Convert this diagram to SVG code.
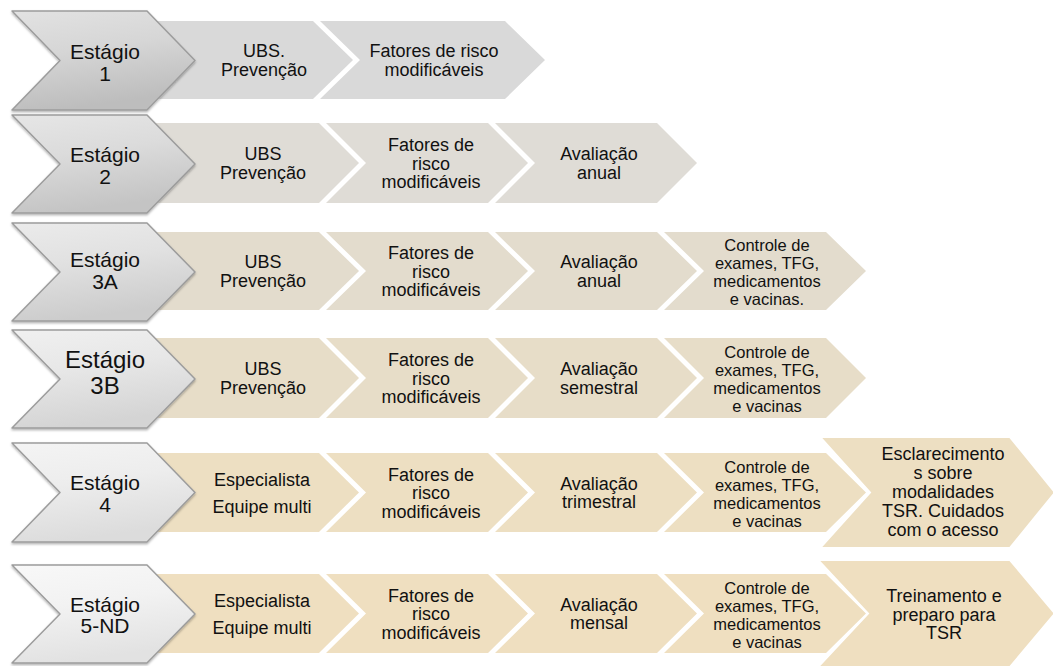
<svg xmlns="http://www.w3.org/2000/svg" width="1053" height="666" viewBox="0 0 1053 666">
  <defs>
    <style>
      text { font-family: "Liberation Sans", Arial, sans-serif; fill: #111; text-anchor: middle; }
      .st { font-size: 21px; }
      .st-big { font-size: 24px; }
      .lb { font-size: 18px; }
      .lb-s { font-size: 16.5px; }
      .stage { stroke: #9c9c9c; stroke-width: 1.5; stroke-linejoin: round; filter: url(#shadow); }
      .r1 { fill: #d9d9d9; }
      .r2 { fill: #dfdcd6; }
      .r3 { fill: #e3dccd; }
      .r4 { fill: #e7ddc8; }
      .r5 { fill: #eddfc2; }
      .r6 { fill: #efdfc0; }
    </style>
    <filter id="shadow" x="-10%" y="-10%" width="120%" height="130%">
      <feDropShadow dx="0" dy="1.5" stdDeviation="1" flood-color="#000" flood-opacity="0.3"/>
    </filter>
    <linearGradient id="g1" x1="0" y1="0" x2="0.25" y2="1">
      <stop offset="0" stop-color="#e2e2e2"/>
      <stop offset="0.45" stop-color="#d6d6d6"/>
      <stop offset="1" stop-color="#bdbdbd"/>
    </linearGradient>
    <linearGradient id="g2" x1="0" y1="0" x2="0.25" y2="1">
      <stop offset="0" stop-color="#e6e6e6"/>
      <stop offset="0.45" stop-color="#dbdbdb"/>
      <stop offset="1" stop-color="#c4c4c4"/>
    </linearGradient>
    <linearGradient id="g3" x1="0" y1="0" x2="0.25" y2="1">
      <stop offset="0" stop-color="#ebebeb"/>
      <stop offset="0.45" stop-color="#e1e1e1"/>
      <stop offset="1" stop-color="#cccccc"/>
    </linearGradient>
    <linearGradient id="g4" x1="0" y1="0" x2="0.25" y2="1">
      <stop offset="0" stop-color="#f0f0f0"/>
      <stop offset="0.45" stop-color="#e7e7e7"/>
      <stop offset="1" stop-color="#d4d4d4"/>
    </linearGradient>
    <linearGradient id="g5" x1="0" y1="0" x2="0.25" y2="1">
      <stop offset="0" stop-color="#f4f4f4"/>
      <stop offset="0.45" stop-color="#ededed"/>
      <stop offset="1" stop-color="#dcdcdc"/>
    </linearGradient>
    <linearGradient id="g6" x1="0" y1="0" x2="0.25" y2="1">
      <stop offset="0" stop-color="#f8f8f8"/>
      <stop offset="0.45" stop-color="#f2f2f2"/>
      <stop offset="1" stop-color="#e2e2e2"/>
    </linearGradient>
  </defs>

  <rect width="1053" height="666" fill="#ffffff"/>

  <!-- Row 1 -->
  <g id="row1">
    <g id="r1-ubs">
      <polygon class="r1" points="140,21 313,21 353,60 313,99 140,99"/>
      <text class="lb" x="264" y="57">UBS.</text>
      <text class="lb" x="264" y="75.5">Prevenção</text>
    </g>
    <g id="r1-fatores">
      <polygon class="r1" points="320,21 505,21 545,60 505,99 320,99 360,60"/>
      <text class="lb" x="434" y="57">Fatores de risco</text>
      <text class="lb" x="434" y="75.5">modificáveis</text>
    </g>
    <g id="r1-stage">
      <polygon class="stage" fill="url(#g1)" points="12,11 147,11 195,60.5 147,110 12,110 60,60.5"/>
      <text class="st" x="105" y="59">Estágio</text>
      <text class="st" x="105" y="81">1</text>
    </g>
  </g>

  <!-- Row 2 -->
  <g id="row2">
    <g id="r2-ubs">
      <polygon class="r2" points="140,123 319,123 359,163 319,203 140,203"/>
      <text class="lb" x="263" y="160">UBS</text>
      <text class="lb" x="263" y="178.5">Prevenção</text>
    </g>
    <g id="r2-fatores">
      <polygon class="r2" points="326,123 488,123 528,163 488,203 326,203 366,163"/>
      <text class="lb" x="431" y="151">Fatores de</text>
      <text class="lb" x="431" y="169.5">risco</text>
      <text class="lb" x="431" y="188">modificáveis</text>
    </g>
    <g id="r2-avaliacao">
      <polygon class="r2" points="495,123 657,123 697,163 657,203 495,203 535,163"/>
      <text class="lb" x="599" y="160">Avaliação</text>
      <text class="lb" x="599" y="178.5">anual</text>
    </g>
    <g id="r2-stage">
      <polygon class="stage" fill="url(#g2)" points="12,115 147,115 195,164 147,213 12,213 60,164"/>
      <text class="st" x="105" y="162">Estágio</text>
      <text class="st" x="105" y="184">2</text>
    </g>
  </g>

  <!-- Row 3 -->
  <g id="row3">
    <g id="r3-ubs">
      <polygon class="r3" points="140,232 319,232 359,271 319,310 140,310"/>
      <text class="lb" x="263" y="268">UBS</text>
      <text class="lb" x="263" y="286.5">Prevenção</text>
    </g>
    <g id="r3-fatores">
      <polygon class="r3" points="326,232 488,232 528,271 488,310 326,310 366,271"/>
      <text class="lb" x="431" y="259">Fatores de</text>
      <text class="lb" x="431" y="277.5">risco</text>
      <text class="lb" x="431" y="296">modificáveis</text>
    </g>
    <g id="r3-avaliacao">
      <polygon class="r3" points="495,232 657,232 697,271 657,310 495,310 535,271"/>
      <text class="lb" x="599" y="268">Avaliação</text>
      <text class="lb" x="599" y="286.5">anual</text>
    </g>
    <g id="r3-controle">
      <polygon class="r3" points="664,232 826,232 866,271 826,310 664,310 704,271"/>
      <text class="lb-s" x="767" y="251">Controle de</text>
      <text class="lb-s" x="767" y="269">exames, TFG,</text>
      <text class="lb-s" x="767" y="287">medicamentos</text>
      <text class="lb-s" x="767" y="305">e vacinas.</text>
    </g>
    <g id="r3-stage">
      <polygon class="stage" fill="url(#g3)" points="12,223 147,223 195,272 147,321 12,321 60,272"/>
      <text class="st" x="105" y="267">Estágio</text>
      <text class="st" x="105" y="289">3A</text>
    </g>
  </g>

  <!-- Row 4 -->
  <g id="row4">
    <g id="r4-ubs">
      <polygon class="r4" points="140,338 319,338 359,378 319,418 140,418"/>
      <text class="lb" x="263" y="375">UBS</text>
      <text class="lb" x="263" y="393.5">Prevenção</text>
    </g>
    <g id="r4-fatores">
      <polygon class="r4" points="326,338 488,338 528,378 488,418 326,418 366,378"/>
      <text class="lb" x="431" y="366">Fatores de</text>
      <text class="lb" x="431" y="384.5">risco</text>
      <text class="lb" x="431" y="403">modificáveis</text>
    </g>
    <g id="r4-avaliacao">
      <polygon class="r4" points="495,338 657,338 697,378 657,418 495,418 535,378"/>
      <text class="lb" x="599" y="375">Avaliação</text>
      <text class="lb" x="599" y="393.5">semestral</text>
    </g>
    <g id="r4-controle">
      <polygon class="r4" points="664,338 826,338 866,378 826,418 664,418 704,378"/>
      <text class="lb-s" x="767" y="358">Controle de</text>
      <text class="lb-s" x="767" y="376">exames, TFG,</text>
      <text class="lb-s" x="767" y="394">medicamentos</text>
      <text class="lb-s" x="767" y="412">e vacinas</text>
    </g>
    <g id="r4-stage">
      <polygon class="stage" fill="url(#g4)" points="12,330 147,330 195,379 147,428 12,428 60,379"/>
      <text class="st-big" x="105" y="368">Estágio</text>
      <text class="st-big" x="105" y="394">3B</text>
    </g>
  </g>

  <!-- Row 5 -->
  <g id="row5">
    <g id="r5-especialista">
      <polygon class="r5" points="140,453 319,453 359,492.5 319,532 140,532"/>
      <text class="lb" x="262" y="486">Especialista</text>
      <text class="lb" x="262" y="513">Equipe multi</text>
    </g>
    <g id="r5-fatores">
      <polygon class="r5" points="326,453 488,453 528,492.5 488,532 326,532 366,492.5"/>
      <text class="lb" x="431" y="480.5">Fatores de</text>
      <text class="lb" x="431" y="499">risco</text>
      <text class="lb" x="431" y="517.5">modificáveis</text>
    </g>
    <g id="r5-avaliacao">
      <polygon class="r5" points="495,453 657,453 697,492.5 657,532 495,532 535,492.5"/>
      <text class="lb" x="599" y="489.5">Avaliação</text>
      <text class="lb" x="599" y="508">trimestral</text>
    </g>
    <g id="r5-controle">
      <polygon class="r5" points="664,453 826,453 866,492.5 826,532 664,532 704,492.5"/>
      <text class="lb-s" x="767" y="472.5">Controle de</text>
      <text class="lb-s" x="767" y="490.5">exames, TFG,</text>
      <text class="lb-s" x="767" y="508.5">medicamentos</text>
      <text class="lb-s" x="767" y="526.5">e vacinas</text>
    </g>
    <g id="r5-esclarecimentos">
      <polygon class="r5" points="820,437 1010,437 1055,492.5 1010,548 820,548 870,492.5" stroke="#ffffff" stroke-width="2"/>
      <text class="lb" x="943" y="460">Esclarecimento</text>
      <text class="lb" x="943" y="479">s sobre</text>
      <text class="lb" x="943" y="498">modalidades</text>
      <text class="lb" x="943" y="517">TSR. Cuidados</text>
      <text class="lb" x="943" y="536">com o acesso</text>
    </g>
    <g id="r5-stage">
      <polygon class="stage" fill="url(#g5)" points="12,443 147,443 195,492.5 147,542 12,542 60,492.5"/>
      <text class="st" x="105" y="490">Estágio</text>
      <text class="st" x="105" y="512">4</text>
    </g>
  </g>

  <!-- Row 6 -->
  <g id="row6">
    <g id="r6-especialista">
      <polygon class="r6" points="140,574 319,574 359,613.5 319,653 140,653"/>
      <text class="lb" x="262" y="607">Especialista</text>
      <text class="lb" x="262" y="634">Equipe multi</text>
    </g>
    <g id="r6-fatores">
      <polygon class="r6" points="326,574 488,574 528,613.5 488,653 326,653 366,613.5"/>
      <text class="lb" x="431" y="601.5">Fatores de</text>
      <text class="lb" x="431" y="620">risco</text>
      <text class="lb" x="431" y="638.5">modificáveis</text>
    </g>
    <g id="r6-avaliacao">
      <polygon class="r6" points="495,574 657,574 697,613.5 657,653 495,653 535,613.5"/>
      <text class="lb" x="599" y="610.5">Avaliação</text>
      <text class="lb" x="599" y="629">mensal</text>
    </g>
    <g id="r6-controle">
      <polygon class="r6" points="664,574 826,574 866,613.5 826,653 664,653 704,613.5"/>
      <text class="lb-s" x="767" y="593.5">Controle de</text>
      <text class="lb-s" x="767" y="611.5">exames, TFG,</text>
      <text class="lb-s" x="767" y="629.5">medicamentos</text>
      <text class="lb-s" x="767" y="647.5">e vacinas</text>
    </g>
    <g id="r6-treinamento">
      <polygon class="r6" points="818,560 1010,560 1055,613.5 1010,667 818,667 868,613.5" stroke="#ffffff" stroke-width="2"/>
      <text class="lb" x="944" y="602">Treinamento e</text>
      <text class="lb" x="944" y="620.5">preparo para</text>
      <text class="lb" x="944" y="639">TSR</text>
    </g>
    <g id="r6-stage">
      <polygon class="stage" fill="url(#g6)" points="12,565 147,565 195,614 147,663 12,663 60,614"/>
      <text class="st" x="105" y="612">Estágio</text>
      <text class="st" x="105" y="633">5-ND</text>
    </g>
  </g>
</svg>
